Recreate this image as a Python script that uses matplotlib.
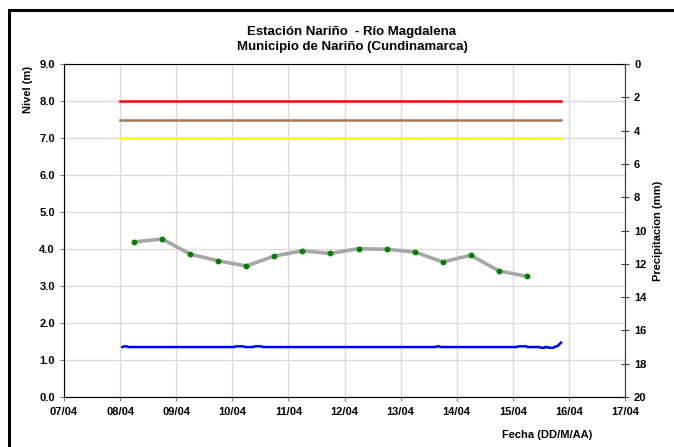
import matplotlib
matplotlib.use("Agg")
import matplotlib.pyplot as plt
from matplotlib.lines import Line2D

plt.rcParams['font.family'] = ['Liberation Sans', 'DejaVu Sans']
plt.rcParams['font.weight'] = 'bold'

# Data (x in days since 07/04 00:00)
day_labels = ['07/04', '08/04', '09/04', '10/04', '11/04', '12/04',
              '13/04', '14/04', '15/04', '16/04', '17/04']

# Manual level readings (06h and 18h)
manual_days = [1.25, 1.75, 2.25, 2.75, 3.25, 3.75, 4.25, 4.75,
               5.25, 5.75, 6.25, 6.75, 7.25, 7.75, 8.25]
manual_level = [4.19, 4.27, 3.86, 3.68, 3.54, 3.81, 3.95, 3.88,
                4.01, 3.99, 3.92, 3.65, 3.83, 3.41, 3.26]

# Automatic sensor level (change points)
auto_days = [1.04, 1.08, 1.12, 1.14, 3.04, 3.06, 3.20, 3.22, 3.38, 3.40,
             3.52, 3.54, 6.63, 6.65, 6.69, 6.71, 8.08, 8.10, 8.24, 8.26,
             8.48, 8.50, 8.56, 8.58, 8.62, 8.64, 8.72, 8.74, 8.80, 8.86]
auto_level = [1.35, 1.37, 1.37, 1.35, 1.35, 1.37, 1.37, 1.35, 1.35, 1.37,
              1.37, 1.35, 1.35, 1.37, 1.37, 1.35, 1.35, 1.37, 1.37, 1.35,
              1.35, 1.33, 1.33, 1.35, 1.35, 1.33, 1.33, 1.35, 1.38, 1.47]

# Threshold levels
thr_start, thr_end = 1.0, 8.86
thr_levels = [8.0, 7.5, 7.0]
thr_colors = ['#FF0000', '#A0785A', '#FFFF00']

fig = plt.figure(figsize=(6.74, 4.47), dpi=100)
ax = fig.add_axes([64/674, 1-397/447, (625-64)/674, (397-64)/447])

for lvl, c in zip(thr_levels, thr_colors):
    ax.plot([thr_start, thr_end], [lvl, lvl], color=c, lw=1.8, zorder=3)

ax.plot(auto_days, auto_level, color='#0000FF', lw=1.8, zorder=3)
ax.plot(manual_days, manual_level, color='#A6A6A6', lw=2.6, zorder=3,
        solid_joinstyle='round', solid_capstyle='round')
ax.plot(manual_days, manual_level, ls='none', marker='o', ms=3.2,
        color='#008000', zorder=4)

ax.set_xlim(0, 10)
ax.set_ylim(0, 9)
ax.set_xticks(range(len(day_labels)))
ax.set_xticklabels(day_labels)
ax.set_yticks([i for i in range(10)])
ax.set_yticklabels([f'{i:.1f}' for i in range(10)])
ax.grid(True, color='#D9D9D9', lw=1.0)
ax.set_axisbelow(True)
ax.tick_params(axis='both', labelsize=8, length=3, color='#808080', width=0.8)
ax.tick_params(axis='x', pad=4)
for s in ['top', 'right', 'left', 'bottom']:
    ax.spines[s].set_color('#808080')

ax2 = ax.twinx()
ax2.set_ylim(20, 0)
ax2.set_yticks(range(0, 21, 2))
ax2.tick_params(axis='y', labelsize=8, direction='inout', length=6,
                color='#404040', width=0.8)
ax2.spines['right'].set_color('#404040')
ax2.set_ylabel('Precipitacion (mm)', fontsize=8, fontweight='bold', labelpad=5)

fig.text(28/674, 1-90/447, 'Nivel (m)', rotation=90, ha='center', va='center',
         fontsize=8, fontweight='bold')
fig.text(547/674, 1-435/447, 'Fecha (DD/M/AA)', ha='center', va='center',
         fontsize=8, fontweight='bold')

fig.text(352/674, 1-32/447, 'Estación Nariño  - Río Magdalena', ha='center',
         va='center', fontsize=9.5, fontweight='bold')
fig.text(352/674, 1-47/447, 'Municipio de Nariño (Cundinamarca)', ha='center',
         va='center', fontsize=9.5, fontweight='bold')

# outer chart border
fig.add_artist(Line2D([9/674, 9/674], [0, 1-10/447], color='black', lw=2.2,
                      transform=fig.transFigure))
fig.add_artist(Line2D([9/674, 1], [1-10/447, 1-10/447], color='black', lw=2.2,
                      transform=fig.transFigure))

fig.savefig('out.png', dpi=100)
